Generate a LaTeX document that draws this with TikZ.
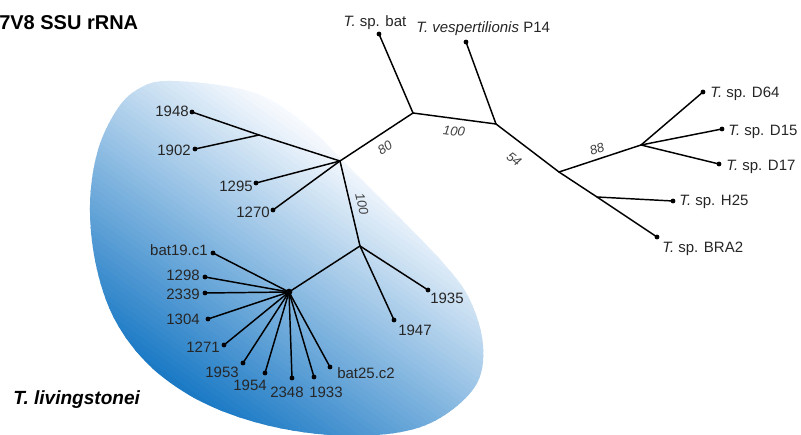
\documentclass[tikz,border=0pt]{standalone}
\usepackage{fontspec}
\setmainfont{Liberation Sans}
\definecolor{blobD}{RGB}{14,114,194}
\definecolor{blobL}{RGB}{246,249,253}
\begin{document}
\begin{tikzpicture}[x=0.75pt,y=-0.75pt,
  branch/.style={line width=1.1pt, line cap=round, black},
  leafdot/.style={circle, fill=black, inner sep=0pt, minimum size=3.6pt},
  lab/.style={font=\fontsize{11.25}{13}\selectfont, inner sep=0pt, text=black!85},
  supv/.style={font=\fontsize{9.75}{11}\selectfont\itshape, inner sep=0pt, text=black!75}]
\useasboundingbox (0,0) rectangle (801,435);
% shaded blob
\begin{scope}
\clip plot[smooth cycle, tension=0.6] coordinates {(167,81) (225,86) (267,98) (310,128) (345,163) (400,218) (445,265) (470,300) (483,345) (476,385) (440,418) (395,433) (330,435) (262,424) (200,401) (150,366) (115,320) (96,265) (90,205) (98,150) (118,108) (140,88)};
\pgfmathsetmacro{\cs}{cos(55)}
\pgfmathsetmacro{\sn}{sin(55)}
\foreach \i in {0,...,84} {
  \pgfmathsetmacro{\pa}{-300+5*\i}
  \pgfmathsetmacro{\pb}{\pa+6}
  \pgfmathsetmacro{\mixv}{max(0,min(100,(\pa+2.5+230)/300*100))}
  \colorlet{stripc}{blobL!\mixv!blobD}
  \fill[stripc] ({\pa*\cs+100*\sn},{-\pa*\sn+100*\cs}) -- ({\pb*\cs+100*\sn},{-\pb*\sn+100*\cs}) -- ({\pb*\cs+700*\sn},{-\pb*\sn+700*\cs}) -- ({\pa*\cs+700*\sn},{-\pa*\sn+700*\cs}) -- cycle;
}
\end{scope}
% internal nodes
\coordinate (E) at (413,113);
\coordinate (B) at (340,161);
\coordinate (A) at (259,135);
\coordinate (C) at (360,246);
\coordinate (D) at (289,292);
\coordinate (F) at (496,124);
\coordinate (G) at (559,172);
\coordinate (H) at (641,145);
\coordinate (J) at (597,197);
% leaves
\node[leafdot] (l1948) at (192,112) {};
\node[leafdot] (l1902) at (195,149) {};
\node[leafdot] (l1295) at (256,183) {};
\node[leafdot] (l1270) at (273,210) {};
\node[leafdot] (lbat19) at (213,253) {};
\node[leafdot] (l1298) at (205,277) {};
\node[leafdot] (l2339) at (205,293) {};
\node[leafdot] (l1304) at (208,319) {};
\node[leafdot] (l1271) at (224,345) {};
\node[leafdot] (l1953) at (243,363) {};
\node[leafdot] (l1954) at (265,373) {};
\node[leafdot] (l2348) at (292,378) {};
\node[leafdot] (l1933) at (314,377) {};
\node[leafdot] (lbat25) at (330,367) {};
\node[leafdot] (l1935) at (428,290) {};
\node[leafdot] (l1947) at (394,320) {};
\node[leafdot] (lbat) at (379,34) {};
\node[leafdot] (lvesp) at (466,42) {};
\node[leafdot] (lD64) at (703,92) {};
\node[leafdot] (lD15) at (722,129) {};
\node[leafdot] (lD17) at (719,164) {};
\node[leafdot] (lH25) at (673,201) {};
\node[leafdot] (lBRA2) at (657,237) {};
% branches
\draw[branch] (E) -- (B);
\draw[branch] (E) -- (lbat.center);
\draw[branch] (E) -- (F);
\draw[branch] (F) -- (lvesp.center);
\draw[branch] (F) -- (G);
\draw[branch] (G) -- (H);
\draw[branch] (H) -- (lD64.center);
\draw[branch] (H) -- (lD15.center);
\draw[branch] (H) -- (lD17.center);
\draw[branch] (G) -- (J) -- (lBRA2.center);
\draw[branch] (J) -- (lH25.center);
\draw[branch] (B) -- (A);
\draw[branch] (A) -- (l1948.center);
\draw[branch] (A) -- (l1902.center);
\draw[branch] (B) -- (l1295.center);
\draw[branch] (B) -- (l1270.center);
\draw[branch] (B) -- (C);
\draw[branch] (C) -- (l1935.center);
\draw[branch] (C) -- (l1947.center);
\draw[branch] (C) -- (D);
\foreach \lf in {lbat19,l1298,l2339,l1304,l1271,l1953,l1954,l2348,l1933,lbat25}
  \draw[branch] (D) -- (\lf.center);
\node[circle, fill=black, inner sep=0pt, minimum size=5pt] (hubD) at (D) {};
% leaf labels
\node[lab, anchor=base east] (t1948) at (189,116.5) {1948};
\node[lab, anchor=base east] (t1902) at (191,155.5) {1902};
\node[lab, anchor=base east] (t1295) at (253,191.5) {1295};
\node[lab, anchor=base east] (t1270) at (270,217.5) {1270};
\node[lab, anchor=base east] (tbat19) at (208,255.5) {bat19.c1};
\node[lab, anchor=base east] (t1298) at (200,280.5) {1298};
\node[lab, anchor=base east] (t2339) at (200,299.5) {2339};
\node[lab, anchor=base east] (t1304) at (200,324.5) {1304};
\node[lab, anchor=base east] (t1271) at (220,352.5) {1271};
\node[lab, anchor=base east] (t1953) at (239,377.5) {1953};
\node[lab, anchor=base east] (t1954) at (267,390.5) {1954};
\node[lab, anchor=base] (t2348) at (287,397.5) {2348};
\node[lab, anchor=base] (t1933) at (326,397.5) {1933};
\node[lab, anchor=base west] (tbat25) at (337,378.5) {bat25.c2};
\node[lab, anchor=base west] (t1935) at (430,303.5) {1935};
\node[lab, anchor=base west] (t1947) at (398,335.5) {1947};
\node[lab, anchor=base] (tbat) at (375,27) {\itshape T.\upshape\ sp. bat};
\node[lab, anchor=base west] (tvesp) at (416,33) {\itshape T. vespertilionis\upshape\ P14};
\node[lab, anchor=base west] (tD64) at (710,97.5) {\itshape T.\upshape\ sp. D64};
\node[lab, anchor=base west] (tD15) at (728,135.5) {\itshape T.\upshape\ sp. D15};
\node[lab, anchor=base west] (tD17) at (726,170.5) {\itshape T.\upshape\ sp. D17};
\node[lab, anchor=base west] (tH25) at (679,205.5) {\itshape T.\upshape\ sp. H25};
\node[lab, anchor=base west] (tBRA2) at (662,252.5) {\itshape T.\upshape\ sp. BRA2};
% support values
\node[supv, rotate=33.7] (s80) at (385,148) {80};
\node[supv, rotate=-7] (s100a) at (454,131) {100};
\node[supv, rotate=-77] (s100b) at (362,204) {100};
\node[supv, rotate=-38] (s54) at (514,159) {54};
\node[supv, rotate=19] (s88) at (597,149) {88};
% titles
\node[inner sep=0pt, anchor=base west, font=\fontsize{15}{18}\selectfont\bfseries] (title) at (-1,30) {7V8 SSU rRNA};
\node[inner sep=0pt, anchor=base west, font=\fontsize{14.3}{17}\selectfont\bfseries\itshape] (clade) at (13,404) {T. livingstonei};
\end{tikzpicture}
\end{document}
